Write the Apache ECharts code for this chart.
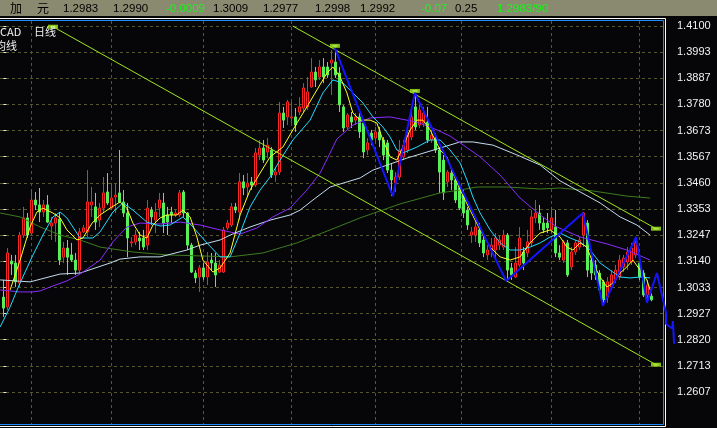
<!DOCTYPE html>
<html><head><meta charset="utf-8">
<script src="https://cdn.jsdelivr.net/npm/echarts@6/dist/echarts.min.js"></script>
<style>html,body{margin:0;padding:0;background:#060609;overflow:hidden}#c{width:717px;height:428px}</style>
</head><body><div id="c"></div>
<script>
// ---- Daily candles (index = trading day) ----
const opens = [1.2994,1.2954,1.3141,1.3133,1.3051,1.3247,1.3317,1.3255,1.3390,1.3370,1.3341,1.3370,1.3284,1.3296,1.3312,1.3157,1.3194,1.3166,1.3145,1.3104,
1.3260,1.3260,1.3370,1.3362,1.3308,1.3357,1.3423,1.3357,1.3402,1.3419,1.3382,1.3337,1.3215,1.3219,1.3235,1.3235,1.3206,1.3349,1.3308,1.3357,
1.3378,1.3329,1.3341,1.3329,1.3329,1.3423,1.3337,1.3206,1.3092,1.3076,1.3113,1.3076,1.3145,1.3133,1.3096,1.3096,1.3276,1.3288,1.3362,1.3341,
1.3464,1.3443,1.3464,1.3451,1.3574,1.3602,1.3586,1.3594,1.3492,1.3504,1.3745,1.3729,1.3725,1.3729,1.3749,1.3765,1.3770,1.3851,1.3912,1.3892,
1.3933,1.3933,1.3949,1.3953,1.3908,1.3770,1.3688,1.3729,1.3716,1.3729,1.3704,1.3594,1.3663,1.3643,1.3668,1.3635,1.3623,1.3512,1.3459,1.3484,
1.3566,1.3594,1.3647,1.3770,1.3696,1.3704,1.3708,1.3635,1.3643,1.3594,1.3553,1.3464,1.3500,1.3472,1.3439,1.3410,1.3349,1.3247,1.3247,1.3268,
1.3227,1.3166,1.3186,1.3186,1.3206,1.3198,1.3247,1.3113,1.3076,1.3125,1.3178,1.3174,1.3215,1.3317,1.3337,1.3296,1.3296,1.3268,1.3280,1.3174,
1.3145,1.3215,1.3117,1.3178,1.3198,1.3247,1.3296,1.3145,1.3125,1.3092,1.3056,1.2994,1.3035,1.3064,1.3076,1.3117,1.3137,1.3137,1.3166,1.3133,
1.3092,1.3002,1.2998];
const closes = [1.2949,1.3174,1.3129,1.3056,1.3247,1.3317,1.3247,1.3390,1.3370,1.3341,1.3370,1.3300,1.3296,1.3317,1.3145,1.3194,1.3157,1.3145,1.3104,1.3260,
1.3276,1.3382,1.3382,1.3300,1.3357,1.3419,1.3378,1.3398,1.3410,1.3382,1.3337,1.3235,1.3219,1.3247,1.3223,1.3198,1.3357,1.3321,1.3341,1.3390,
1.3296,1.3300,1.3329,1.3337,1.3419,1.3337,1.3206,1.3096,1.3072,1.3113,1.3076,1.3137,1.3133,1.3084,1.3125,1.3268,1.3296,1.3362,1.3349,1.3464,
1.3439,1.3459,1.3451,1.3582,1.3602,1.3553,1.3614,1.3492,1.3504,1.3745,1.3716,1.3790,1.3729,1.3696,1.3770,1.3847,1.3831,1.3912,1.3880,1.3933,
1.3892,1.3900,1.3961,1.3900,1.3778,1.3684,1.3737,1.3708,1.3729,1.3668,1.3586,1.3623,1.3635,1.3668,1.3635,1.3574,1.3512,1.3472,1.3484,1.3594,
1.3614,1.3663,1.3729,1.3688,1.3757,1.3745,1.3635,1.3655,1.3594,1.3504,1.3419,1.3504,1.3472,1.3390,1.3357,1.3337,1.3288,1.3260,1.3280,1.3215,
1.3174,1.3186,1.3206,1.3235,1.3227,1.3247,1.3104,1.3084,1.3133,1.3235,1.3133,1.3219,1.3321,1.3337,1.3296,1.3268,1.3276,1.3317,1.3174,1.3157,
1.3219,1.3084,1.3178,1.3215,1.3227,1.3337,1.3104,1.3092,1.3084,1.3023,1.2982,1.3056,1.3084,1.3104,1.3145,1.3153,1.3178,1.3194,1.3215,1.3076,
1.3002,1.3043,1.2983];
const lows = [1.2913,1.2941,1.3084,1.3035,1.3035,1.3235,1.3235,1.3247,1.3349,1.3300,1.3321,1.3296,1.3227,1.3219,1.3125,1.3133,1.3084,1.3137,1.3084,1.3092,
1.3255,1.3239,1.3321,1.3268,1.3280,1.3337,1.3370,1.3349,1.3337,1.3378,1.3321,1.3157,1.3198,1.3206,1.3186,1.3186,1.3186,1.3288,1.3255,1.3321,
1.3255,1.3247,1.3296,1.3321,1.3321,1.3321,1.3186,1.3092,1.3051,1.3015,1.3064,1.3043,1.3104,1.3035,1.3092,1.3092,1.3268,1.3280,1.3337,1.3308,
1.3410,1.3402,1.3431,1.3443,1.3553,1.3541,1.3561,1.3480,1.3464,1.3492,1.3684,1.3696,1.3704,1.3668,1.3737,1.3749,1.3757,1.3847,1.3851,1.3880,
1.3867,1.3888,1.3818,1.3888,1.3749,1.3668,1.3676,1.3684,1.3696,1.3643,1.3561,1.3574,1.3614,1.3623,1.3606,1.3553,1.3500,1.3406,1.3423,1.3472,
1.3553,1.3582,1.3635,1.3676,1.3684,1.3688,1.3623,1.3623,1.3582,1.3419,1.3390,1.3443,1.3431,1.3378,1.3349,1.3317,1.3268,1.3215,1.3219,1.3198,
1.3157,1.3145,1.3157,1.3145,1.3186,1.3186,1.3060,1.3064,1.3072,1.3117,1.3104,1.3157,1.3198,1.3296,1.3268,1.3255,1.3255,1.3255,1.3157,1.3145,
1.3133,1.3076,1.3104,1.3166,1.3186,1.3198,1.3076,1.3064,1.3064,1.3011,1.2958,1.2970,1.3023,1.3051,1.3064,1.3096,1.3104,1.3125,1.3153,1.3064,
1.2994,1.2970,1.2977];
const highs = [1.3064,1.3194,1.3166,1.3166,1.3260,1.3362,1.3337,1.3431,1.3423,1.3439,1.3390,1.3410,1.3321,1.3337,1.3341,1.3219,1.3227,1.3215,1.3174,1.3276,
1.3288,1.3512,1.3443,1.3419,1.3378,1.3484,1.3500,1.3459,1.3459,1.3594,1.3431,1.3378,1.3239,1.3268,1.3260,1.3268,1.3390,1.3362,1.3378,1.3419,
1.3419,1.3362,1.3362,1.3349,1.3431,1.3431,1.3341,1.3215,1.3104,1.3125,1.3133,1.3178,1.3174,1.3174,1.3145,1.3280,1.3308,1.3378,1.3378,1.3500,
1.3492,1.3500,1.3484,1.3602,1.3635,1.3635,1.3643,1.3606,1.3525,1.3790,1.3770,1.3798,1.3790,1.3765,1.3810,1.3867,1.3892,1.3969,1.3933,1.3961,
1.3969,1.3953,1.4002,1.4014,1.3933,1.3778,1.3745,1.3749,1.3745,1.3745,1.3716,1.3643,1.3676,1.3688,1.3688,1.3647,1.3635,1.3541,1.3504,1.3635,
1.3635,1.3688,1.3749,1.3827,1.3786,1.3770,1.3770,1.3676,1.3663,1.3606,1.3574,1.3512,1.3512,1.3484,1.3459,1.3431,1.3362,1.3280,1.3308,1.3296,
1.3255,1.3206,1.3235,1.3255,1.3247,1.3268,1.3255,1.3133,1.3198,1.3280,1.3198,1.3268,1.3349,1.3390,1.3370,1.3321,1.3337,1.3362,1.3349,1.3206,
1.3227,1.3227,1.3198,1.3227,1.3239,1.3341,1.3308,1.3166,1.3145,1.3104,1.3064,1.3076,1.3104,1.3125,1.3166,1.3166,1.3198,1.3215,1.3239,1.3157,
1.3104,1.3064,1.3009];

// ---- Moving averages as [day index, price] ----
const maYellow = [[1.7,1.3023],[4.2,1.3145],[6.7,1.3280],[8.4,1.3341],[9.9,1.3357],[12.4,1.3337],[14.2,1.3317],[15.9,1.3268],[18.4,1.3227],[19.9,1.3235],
[22.2,1.3296],[24.2,1.3329],[26.7,1.3357],[29.2,1.3382],[30.9,1.3357],[32.4,1.3296],[34.2,1.3247],[35.9,1.3235],[37.4,1.3288],[39.2,1.3317],
[40.9,1.3329],[43.4,1.3329],[44.9,1.3349],[46.7,1.3321],[48.4,1.3239],[49.9,1.3145],[52.4,1.3096],[54.2,1.3113],[56.7,1.3174],[59.2,1.3329],
[61.7,1.3431],[64.2,1.3500],[66.7,1.3566],[69.9,1.3606],[73.4,1.3704],[75.9,1.3770],[78.4,1.3839],[80.9,1.3908],[82.4,1.3933],[84.2,1.3892],
[85.9,1.3827],[87.4,1.3745],[89.2,1.3716],[91.7,1.3716],[93.4,1.3704],[94.9,1.3635],[96.7,1.3566],[98.4,1.3553],[99.9,1.3606],[101.7,1.3676],
[103.4,1.3716],[104.9,1.3716],[106.7,1.3676],[109.2,1.3594],[110.9,1.3566],[112.4,1.3500],[114.2,1.3431],[116.7,1.3349],[119.2,1.3268],[121.7,1.3198],
[124.2,1.3158],[126.7,1.3145],[129.2,1.3158],[131.7,1.3215],[134.2,1.3255],[136.7,1.3268],[139.2,1.3239],[140.9,1.3198],[142.4,1.3186],[144.2,1.3215],
[145.9,1.3198],[147.4,1.3133],[149.2,1.3076],[150.9,1.3035],[152.4,1.3051],[154.2,1.3092],[155.9,1.3117],[157.4,1.3145],[159.2,1.3104],[160.9,1.3064],[161.7,1.3023]];
const maCyan = [[-0.8,1.2872],[1.7,1.2954],[4.2,1.3052],[7.4,1.3165],[9.9,1.3247],[12.4,1.3321],[14.2,1.3341],[15.9,1.3317],[19.2,1.3235],[22.4,1.3235],[24.2,1.3260],
[27.4,1.3341],[29.9,1.3378],[32.4,1.3349],[35.9,1.3300],[39.2,1.3284],[41.7,1.3288],[44.9,1.3321],[47.4,1.3280],[50.9,1.3215],[54.2,1.3158],
[56.7,1.3158],[59.2,1.3255],[61.7,1.3362],[64.2,1.3431],[66.7,1.3484],[69.2,1.3553],[72.4,1.3635],[76.7,1.3716],[79.9,1.3827],[82.4,1.3880],
[84.9,1.3867],[87.4,1.3827],[89.9,1.3786],[92.4,1.3729],[94.9,1.3688],[96.7,1.3647],[98.4,1.3594],[99.9,1.3582],[103.4,1.3606],[106.7,1.3635],
[109.2,1.3635],[111.7,1.3594],[114.2,1.3541],[115.9,1.3472],[117.4,1.3402],[119.2,1.3337],[121.7,1.3268],[124.2,1.3215],[126.7,1.3186],[129.2,1.3186],
[131.7,1.3198],[134.2,1.3215],[136.7,1.3239],[139.2,1.3255],[141.7,1.3235],[144.2,1.3219],[146.7,1.3186],[149.2,1.3133],[151.7,1.3104],[154.2,1.3076],
[156.7,1.3072],[159.2,1.3076],[161.7,1.3072]];
const maPurple = [[-0.8,1.3023],[4.2,1.3015],[7.2,1.3015],[9.2,1.3019],[11.7,1.3035],[15.9,1.3060],[19.2,1.3088],[24.2,1.3145],[27.4,1.3219],[30.9,1.3280],
[34.2,1.3296],[39.2,1.3292],[44.2,1.3300],[49.2,1.3288],[54.2,1.3268],[59.2,1.3251],[63.4,1.3276],[67.4,1.3321],[71.7,1.3357],[75.9,1.3431],
[79.2,1.3500],[81.7,1.3582],[83.4,1.3639],[87.4,1.3696],[91.7,1.3725],[96.7,1.3729],[103.4,1.3708],[108.4,1.3676],[111.7,1.3651],[114.2,1.3623],
[119.2,1.3566],[124.2,1.3492],[129.2,1.3398],[134.2,1.3329],[138.4,1.3280],[144.2,1.3239],[150.9,1.3211],[155.9,1.3186],[161.7,1.3145]];
const maWhite = [[-0.8,1.3064],[6.7,1.3056],[14.2,1.3088],[19.2,1.3092],[26.7,1.3133],[29.2,1.3149],[34.2,1.3158],[39.2,1.3158],[45.9,1.3186],[49.2,1.3206],
[54.2,1.3227],[56.7,1.3247],[61.7,1.3280],[66.7,1.3308],[71.7,1.3329],[74.2,1.3349],[77.4,1.3390],[81.7,1.3443],[89.2,1.3480],[92.4,1.3512],
[100.9,1.3561],[109.2,1.3602],[114.2,1.3627],[117.4,1.3627],[122.4,1.3614],[128.4,1.3574],[134.2,1.3533],[139.2,1.3468],[144.2,1.3423],[149.2,1.3378],
[154.2,1.3321],[158.4,1.3288],[161.7,1.3247]];
const maDarkGreen = [[-0.8,1.3337],[4.2,1.3321],[9.2,1.3280],[14.2,1.3247],[19.2,1.3227],[24.2,1.3198],[32.4,1.3178],[40.9,1.3166],[49.2,1.3162],[56.7,1.3158],
[64.9,1.3174],[73.4,1.3215],[81.7,1.3268],[89.2,1.3317],[99.2,1.3374],[109.2,1.3419],[114.2,1.3431],[118.4,1.3443],[125.9,1.3443],[134.2,1.3435],
[139.2,1.3439],[147.4,1.3427],[155.9,1.3406],[161.7,1.3398]];

// ---- Drawn objects ----
const zigzag = [[82.9,1.4010],[97.4,1.3406],[102.9,1.3827],[125.7,1.3060],[144.9,1.3337],[149.9,1.2958],[158.2,1.3239],[160.9,1.2970],[163.4,1.3092],
[165.7,1.2929],[165.7,1.2884],[167.2,1.2866],[167.4,1.2896],[167.7,1.2803]];
const channelLower = [[12.43,1.40971],[163.18,1.27181]];
const channelUpper = [[72.35,1.41000],[163.18,1.32730]];
const channelMarks = [[12.43,1.40971],[163.18,1.27181],[82.9,1.4019],[102.9,1.3835],[163.18,1.32730]];

// ---- Axes ----
const yTicks = [1.2607,1.2713,1.2820,1.2927,1.3033,1.3140,1.3247,1.3353,1.3460,1.3567,1.3673,1.3780,1.3887,1.3993,1.4100];
const monthLines = [6.9,26.9,49.9,72.1,93.0,114.6,136.9,158.9];

// ---- Header ----
const headerItems = [['加',10,'#000'],['元',37,'#000'],['1.2983',63,'#000'],['1.2990',113,'#000'],['-0.0009',166,'#22ee22'],
['1.3009',213,'#000'],['1.2977',263,'#000'],['1.2998',315,'#000'],['1.2992',360,'#000'],['-0.07',421,'#22ee22'],['0.25',455,'#000'],['1.2983/90',497,'#22ee22']];

const GRID = '#57572a';
const Y_MIN = 1.247616, Y_MAX = 1.41204;
const chart = echarts.init(document.getElementById('c'), null, {renderer:'canvas'});
const candleData = opens.map((o,i)=>[i,o,closes[i],lows[i],highs[i]]);
const maLine = (data,color)=>({type:'line',data,showSymbol:false,symbol:'none',smooth:false,z:3,lineStyle:{color,width:1},silent:true});

const graphics = [
  {type:'rect',shape:{x:0,y:0,width:717,height:16},style:{fill:'#8a8a70'},z:100},
  {type:'rect',shape:{x:-3,y:18.5,width:668.5,height:408},style:{fill:null,stroke:'#ffffff',lineWidth:1},z:90},
  {type:'rect',shape:{x:-3,y:20.5,width:666.5,height:404},style:{fill:null,stroke:'#1e8cff',lineWidth:1},z:90},
  {type:'text',x:0,y:32,style:{text:'CAD',fill:'#f0f0f0',font:'11px "Noto Sans CJK SC"',verticalAlign:'middle'},z:100},
  {type:'text',x:34,y:32,style:{text:'日线',fill:'#f0f0f0',font:'11px "Noto Sans CJK SC"',verticalAlign:'middle'},z:100},
  {type:'text',x:-5,y:46,style:{text:'均线',fill:'#f0f0f0',font:'11px "Noto Sans CJK SC"',verticalAlign:'middle'},z:100}
];
headerItems.forEach(h=>{
  const cjk = /[^\x00-\x7f]/.test(h[0]);
  graphics.push({type:'text',x:h[1],y:8.5,style:{text:h[0],fill:h[2],font: cjk ? '12px "Noto Sans CJK SC"' : '11.5px "Liberation Sans"',verticalAlign:'middle'},z:101});
});

chart.setOption({
  animation:false,
  backgroundColor:'#060609',
  grid:[
    {left:0,right:53.5,top:21,bottom:4,containLabel:false},
    {left:0,right:37,top:21,bottom:4,containLabel:false}
  ],
  xAxis:[
    {type:'value',gridIndex:0,min:-0.825,max:165.05,
      axisLine:{show:false},axisLabel:{show:false},
      axisTick:{show:false,customValues:monthLines},
      splitLine:{show:true,lineStyle:{color:GRID,width:1,type:[3,3]}}},
    {type:'value',gridIndex:1,min:-0.825,max:169.175,show:false,splitLine:{show:false}}
  ],
  yAxis:[
    {type:'value',gridIndex:0,position:'right',min:Y_MIN,max:Y_MAX,offset:4.5,scale:true,
      axisLine:{show:false},
      axisTick:{show:true,length:3,customValues:yTicks,lineStyle:{color:'#e8e8e8'}},
      axisLabel:{show:true,customValues:yTicks,margin:9,color:'#f2f2f2',fontSize:11,fontFamily:'Liberation Sans',formatter:v=>v.toFixed(4)},
      splitLine:{show:true,lineStyle:{color:GRID,width:1,type:[3,3]}}},
    {type:'value',gridIndex:1,min:Y_MIN,max:Y_MAX,scale:true,show:false,splitLine:{show:false}}
  ],
  graphic:graphics,
  series:[
    {type:'candlestick',data:candleData,barWidth:2,z:2,silent:true,
      itemStyle:{color:'#060609',color0:'#58f058',borderColor:'#ff2424',borderColor0:'#58f058',borderWidth:1}},
    maLine(maDarkGreen,'#3d7c1e'),
    maLine(maWhite,'#c4dcec'),
    maLine(maPurple,'#8a2cff'),
    maLine(maCyan,'#22dcff'),
    maLine(maYellow,'#ffff22'),
    {type:'line',data:channelLower,symbol:'none',z:4,silent:true,lineStyle:{color:'#a0e81c',width:1}},
    {type:'line',data:channelUpper,symbol:'none',z:4,silent:true,lineStyle:{color:'#a0e81c',width:1}},
    {type:'scatter',data:channelMarks,symbol:'emptyRect',symbolSize:[5,2],z:4,silent:true,itemStyle:{color:'#a0e81c',borderColor:'#a0e81c',borderWidth:1}},
    {type:'line',data:zigzag,xAxisIndex:1,yAxisIndex:1,symbol:'none',clip:false,z:95,zlevel:0,silent:true,lineStyle:{color:'#1414ff',width:2}}
  ]
});
</script>
</body></html>
